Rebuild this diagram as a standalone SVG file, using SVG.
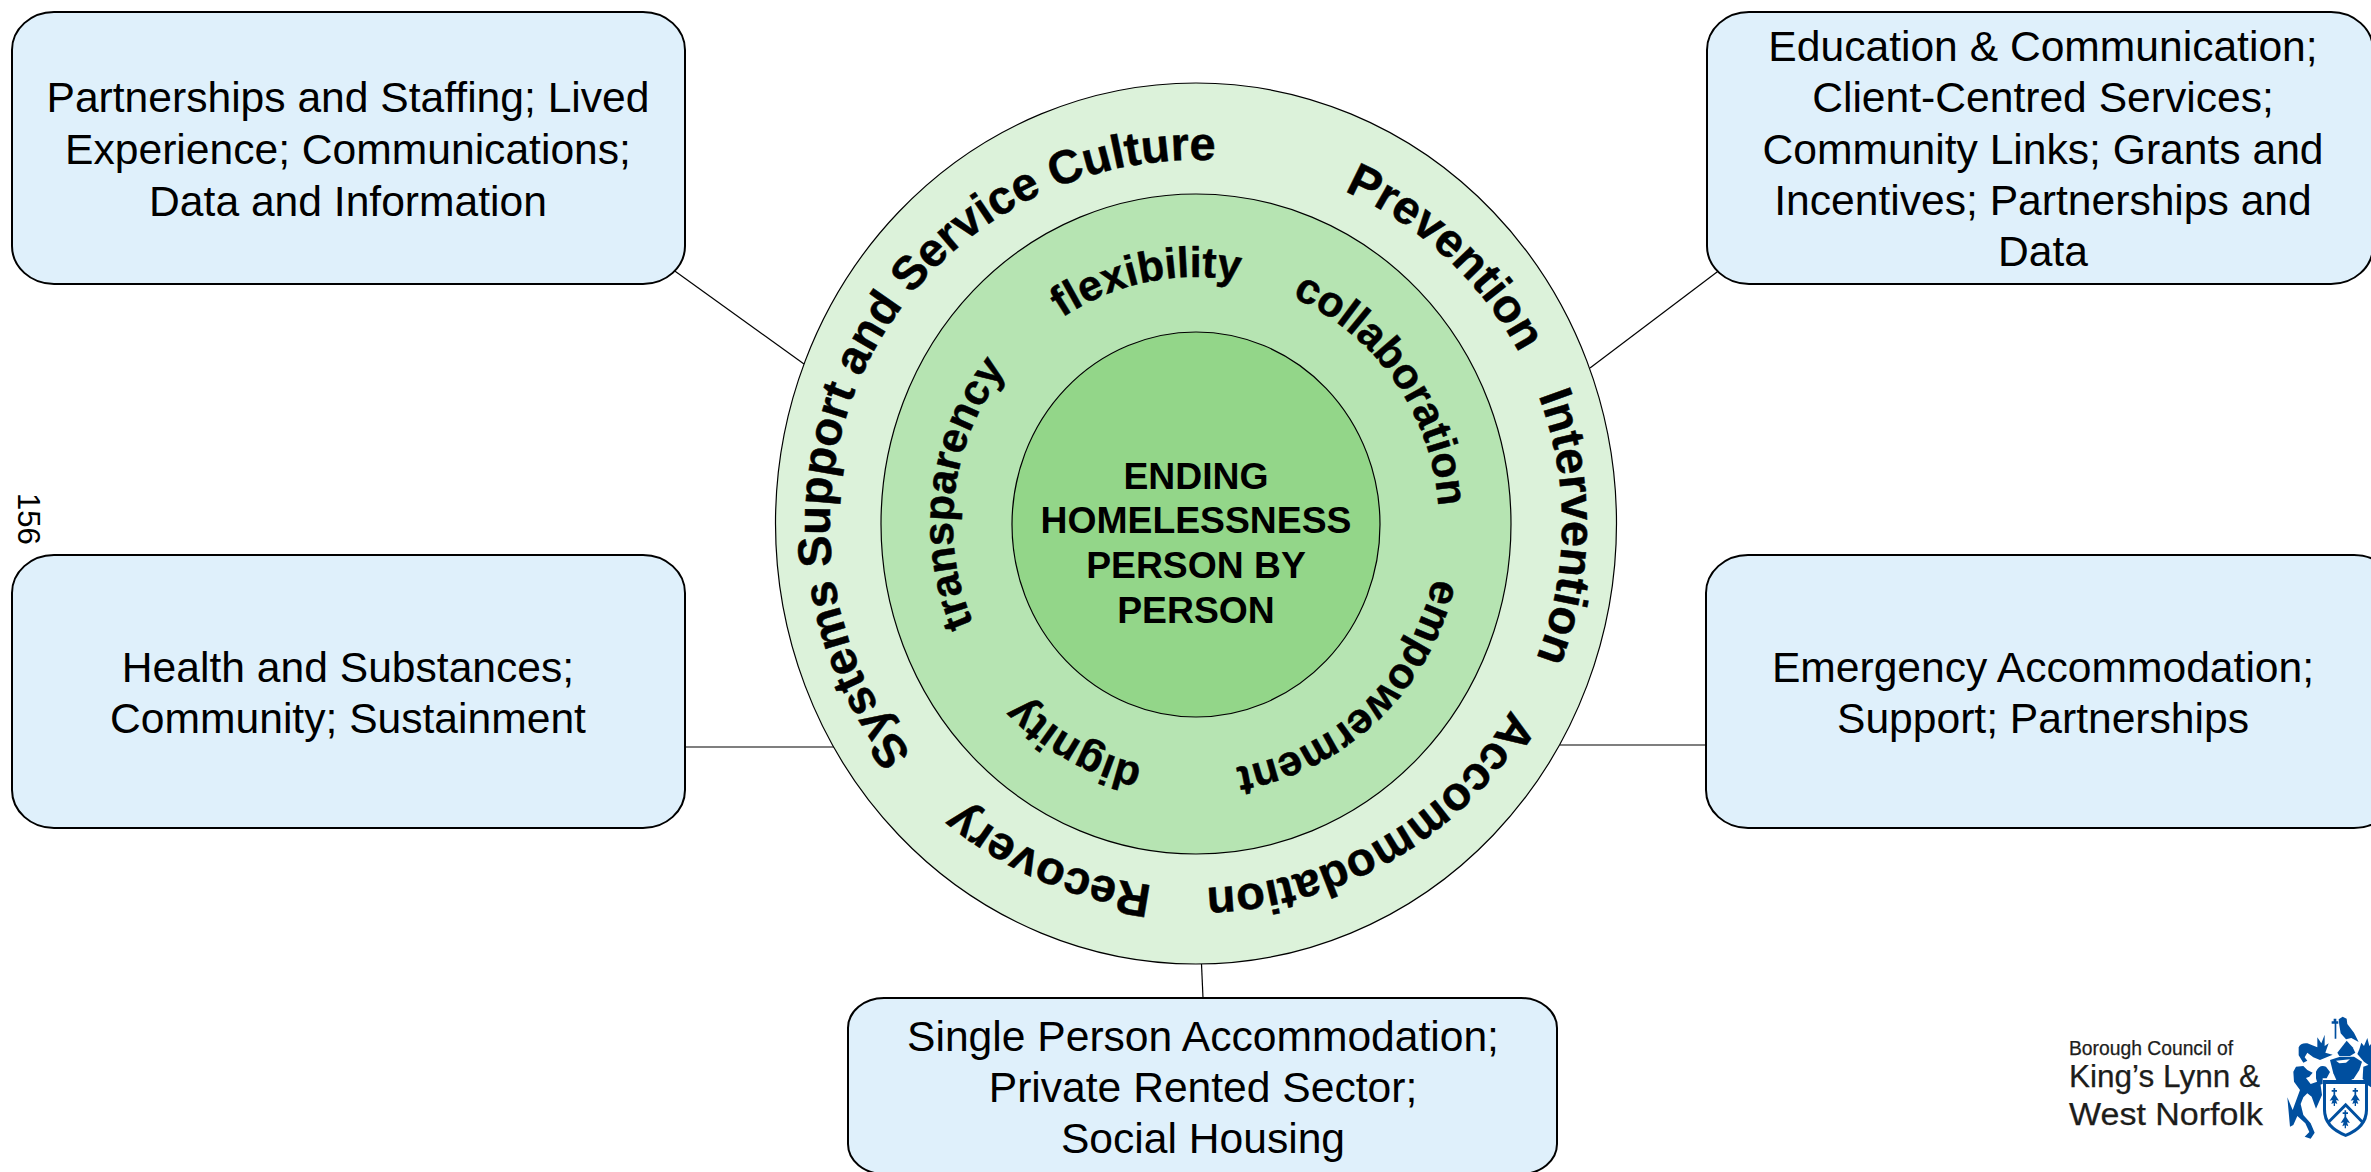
<svg xmlns="http://www.w3.org/2000/svg" width="2371" height="1172" viewBox="0 0 2371 1172">
<style>
text{font-family:"Liberation Sans",Arial,sans-serif;fill:#000}
.box{fill:#dff0fb;stroke:#000;stroke-width:2}
.t{font-size:42.6px;text-anchor:middle}
.ring{stroke:#000;stroke-width:1.2}
.c{font-size:37.3px;font-weight:bold;text-anchor:middle}
.arc{font-size:47px;font-weight:bold;text-anchor:middle;stroke:#000;stroke-width:.5}
.arc2{font-size:42.8px;font-weight:bold;text-anchor:middle;stroke:#000;stroke-width:.5}
.ln{stroke:#000;stroke-width:1.2;fill:none}
.crest{fill:#004f9f}
.logo{fill:#1d1d1b;stroke:#1d1d1b;stroke-width:.25}
</style>
<defs>
<path id="outerArc" pathLength="360" d="M1196 888A366 364 0 0 1 1196 160A366 364 0 0 1 1196 888Z"/>
<path id="innerArc" pathLength="360" d="M1196 771A243 247 0 0 1 1196 277A243 247 0 0 1 1196 771Z"/>
<g id="tree"><path d="M-2.500 -34H2.500V-28H8V-23H2.500V-14L14 4L5 2L9 14L2 11V20H-2V11L-9 14L-5 2L-14 4L-2.500 -14V-23H-8V-28H-2.500Z"/></g>
</defs>
<g id="connectors">
<path class="ln" d="M672 269L804 364"/>
<path class="ln" d="M1721 269L1590 368"/>
<path class="ln" d="M685 747H836"/>
<path class="ln" d="M1560 745H1706"/>
<path class="ln" d="M1201.500 964L1203 998"/>
</g>
<g id="node-rings">
<ellipse class="ring" cx="1196" cy="523.500" rx="420.500" ry="440.500" fill="#dcf2da"/>
<ellipse class="ring" cx="1196" cy="524" rx="315" ry="330" fill="#b6e4b2"/>
<ellipse class="ring" cx="1196" cy="524.500" rx="184" ry="192.500" fill="#93d689"/>
</g>
<g id="node-centre">
<text class="c" x="1196" y="489">ENDING</text>
<text class="c" x="1196" y="533">HOMELESSNESS</text>
<text class="c" x="1196" y="578">PERSON BY</text>
<text class="c" x="1196" y="623">PERSON</text>
</g>
<g id="node-outer-labels">
<text class="arc"><textPath href="#outerArc" startOffset="23.500">Recovery</textPath></text>
<text class="arc"><textPath href="#outerArc" startOffset="117">Systems Support and Service Culture</textPath></text>
<text class="arc"><textPath href="#outerArc" startOffset="223">Prevention</textPath></text>
<text class="arc"><textPath href="#outerArc" startOffset="270.500">Intervention</textPath></text>
<text class="arc"><textPath href="#outerArc" startOffset="329.500">Accommodation</textPath></text>
</g>
<g id="node-inner-labels">
<text class="arc2"><textPath href="#innerArc" startOffset="29">dignity</textPath></text>
<text class="arc2"><textPath href="#innerArc" startOffset="97.500">transparency</textPath></text>
<text class="arc2"><textPath href="#innerArc" startOffset="168.500">flexibility</textPath></text>
<text class="arc2"><textPath href="#innerArc" startOffset="234.500">collaboration</textPath></text>
<text class="arc2"><textPath href="#innerArc" startOffset="316.700">empowerment</textPath></text>
</g>
<g id="node-top-left">
<rect class="box" x="12" y="12" width="673" height="272" rx="42" ry="38"/>
<text class="t" x="348" y="112">Partnerships and Staffing; Lived</text>
<text class="t" x="348" y="164">Experience; Communications;</text>
<text class="t" x="348" y="216">Data and Information</text>
</g>
<g id="node-top-right">
<rect class="box" x="1707" y="12" width="666" height="272" rx="42" ry="38"/>
<text class="t" x="2043" y="61">Education &amp; Communication;</text>
<text class="t" x="2043" y="112">Client-Centred Services;</text>
<text class="t" x="2043" y="164">Community Links; Grants and</text>
<text class="t" x="2043" y="215">Incentives; Partnerships and</text>
<text class="t" x="2043" y="266">Data</text>
</g>
<g id="node-mid-left">
<rect class="box" x="12" y="555" width="673" height="273" rx="42" ry="38"/>
<text class="t" x="348" y="682">Health and Substances;</text>
<text class="t" x="348" y="733">Community; Sustainment</text>
</g>
<g id="node-mid-right">
<rect class="box" x="1706" y="555" width="690" height="273" rx="42" ry="38"/>
<text class="t" x="2043" y="682">Emergency Accommodation;</text>
<text class="t" x="2043" y="733">Support; Partnerships</text>
</g>
<g id="node-bottom">
<rect class="box" x="848" y="998" width="709" height="176" rx="36" ry="30"/>
<text class="t" x="1203" y="1051">Single Person Accommodation;</text>
<text class="t" x="1203" y="1102">Private Rented Sector;</text>
<text class="t" x="1203" y="1153">Social Housing</text>
</g>
<text id="page-number" transform="translate(18 493) rotate(90)" font-size="31">156</text>
<g id="logo">
<text class="logo" x="2069" y="1055" font-size="19.300">Borough Council of</text>
<text class="logo" x="2069" y="1087" font-size="31" textLength="191" lengthAdjust="spacingAndGlyphs">King’s Lynn &amp;</text>
<text class="logo" x="2069" y="1125" font-size="31" textLength="194" lengthAdjust="spacingAndGlyphs">West Norfolk</text>
<g transform="translate(2280 1010) scale(.3333)">
<path class="crest" d="M129 210H264V300Q264 355 197 381Q129 355 129 300Z"/>
<path fill="#fff" d="M138 222H255V298Q255 348 197 371Q138 348 138 298Z"/>
<path class="crest" d="M140 336L197 278L253 336L247 342L197 291L146 342Z"/>
<use class="crest" href="#tree" x="163" y="268"/>
<use class="crest" href="#tree" x="226" y="268"/>
<use class="crest" href="#tree" x="196" y="335"/>
<path class="crest" d="M40 185L48 170L70 168L82 180L98 188L88 200L78 204L92 222L120 212L126 255L108 296L95 260L82 250L70 262L62 282L70 315L92 340L104 368L92 386L74 380L88 366L76 340L52 318L40 345L30 350L22 262L38 300L52 262L60 240L42 215Z"/>
<path class="crest" d="M108 185Q118 162 138 170L150 186L140 205H128V222L114 226L108 205Z"/>
<path class="crest" d="M150 150L180 140L222 140L246 155L238 180L222 205L210 212L170 212L160 190Z"/>
<path fill="#fff" d="M168 152L210 148L198 158L178 160Z"/>
<path class="crest" d="M172 128L200 92L218 112L226 128L210 138H178Z"/>
<path class="crest" d="M56 112Q62 98 82 100L112 112L112 82L124 100L134 74L134 108L146 100L136 128L158 134L120 150L100 142L82 128L74 142L82 152L70 158L56 136Z"/>
<path class="crest" d="M238 118L244 98L252 108L262 84L268 108L273 102V170L252 155L232 132Z"/>
<path class="crest" d="M250 170L273 162V232L258 222L248 205Z"/>
<path class="crest" d="M176 28L188 20L200 26L202 42L222 68L236 96L214 84L198 88L182 70L178 46Z"/>
<path class="crest" d="M161 26H169V34H175V41H169V86H164V41H155V34H161Z"/>
</g>
</g>
</svg>
